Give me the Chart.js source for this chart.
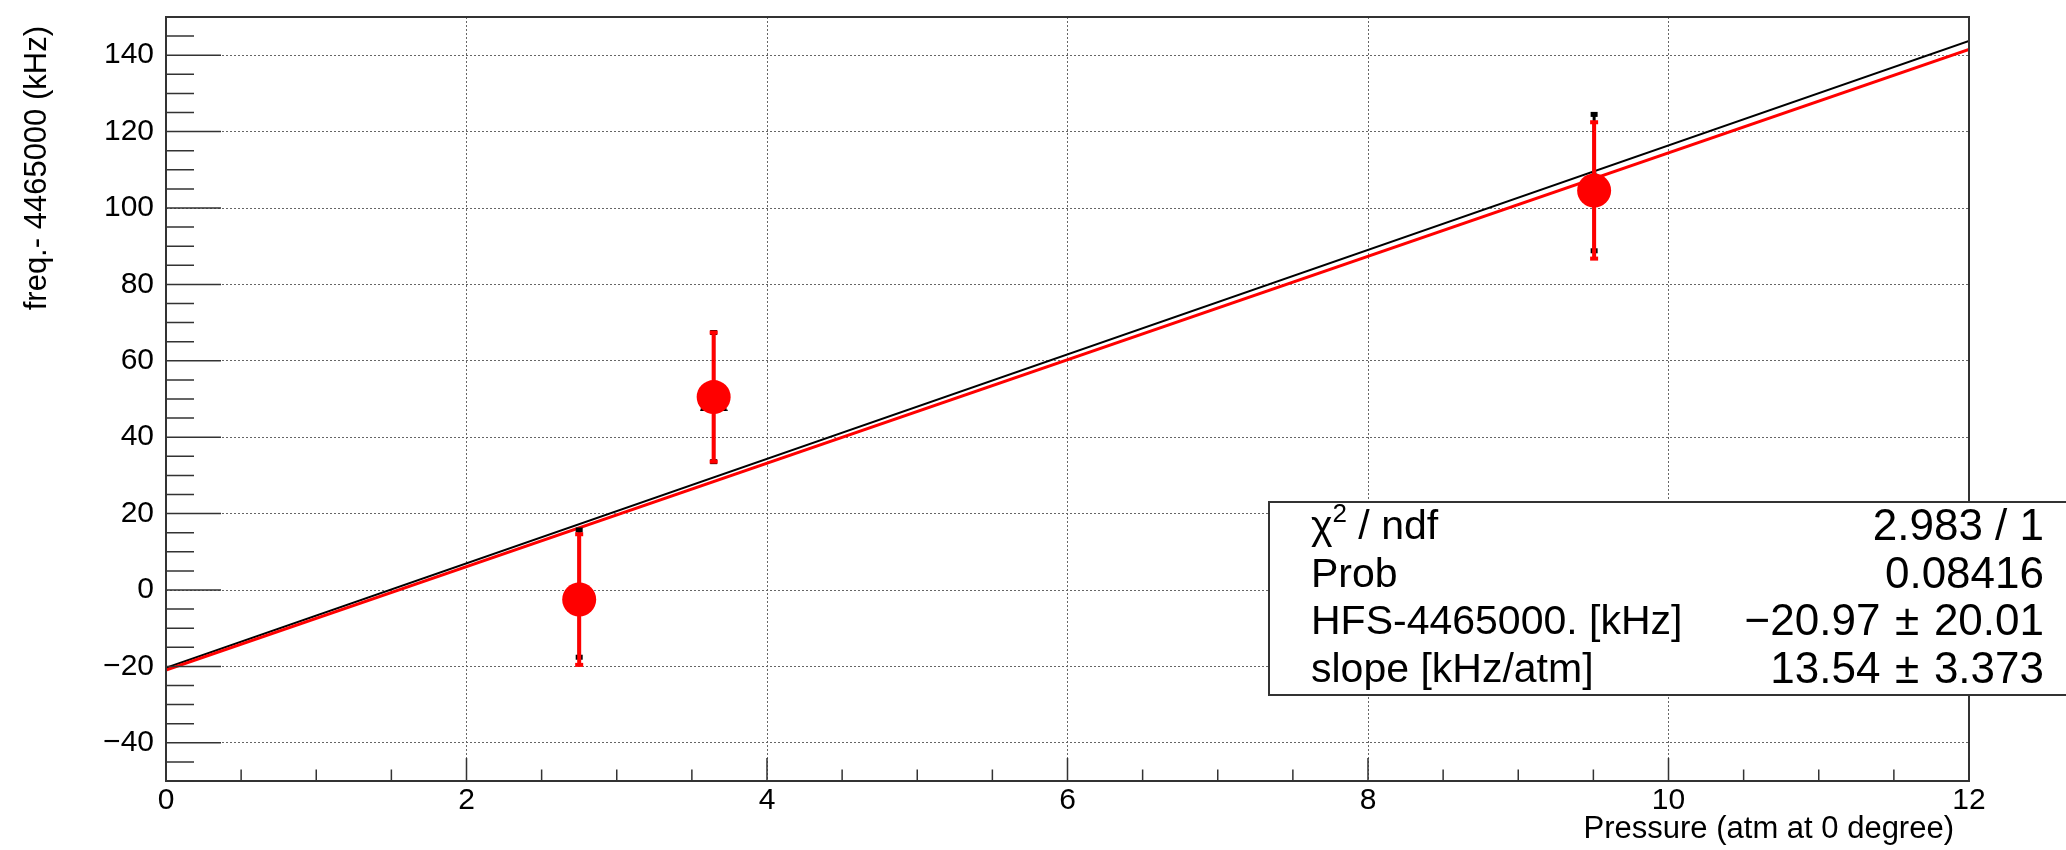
<!DOCTYPE html>
<html>
<head>
<meta charset="utf-8">
<script src="https://cdn.jsdelivr.net/npm/chart.js@4.4.1/dist/chart.umd.min.js"></script>
<style>
html, body { margin: 0; padding: 0; background: #fff; }
#wrap { width: 2066px; height: 850px; }
</style>
</head>
<body>
<div id="wrap"><canvas id="mycanvas" width="2066" height="850"></canvas></div>
<script>
// values
var pressure   = [2.75, 3.645, 9.505];
var freqRed    = [-2.5, 50.5, 104.6];
var errRed     = [17.1, 16.9, 17.85];
var freqBlack  = [-0.95, 50.5, 106.65];
var errBlack   = [16.65, 16.9, 17.85];
var fitX       = [0, 12];
var fitBlack   = [-20.4, 143.7];
var fitRed     = [-20.97, 141.5];
var xTicks     = [0, 2, 4, 6, 8, 10, 12];
var yTicks     = [-40, -20, 0, 20, 40, 60, 80, 100, 120, 140];
var statNames  = ['χ2 / ndf', 'Prob', 'HFS-4465000. [kHz]', 'slope [kHz/atm]'];
var statValues = ['2.983 / 1', '0.08416', '\u221220.97\u2004\u00b1\u200420.01', '13.54\u2004\u00b1\u20043.373'];

var FONT = '"Liberation Sans", Arial, Helvetica, sans-serif';
var AXC = '#333';

function pts(xs, ys) {
  return xs.map(function(x, i) { return {x: x, y: ys[i]}; });
}
function fmt(v) { return String(v).replace('-', '\u2212'); }

// ROOT style filled triangle (apex up, base at +size)
var tri = document.createElement('canvas');
tri.width = 28; tri.height = 28;
(function() {
  var c = tri.getContext('2d');
  c.fillStyle = '#000';
  c.beginPath(); c.moveTo(14, 0); c.lineTo(28, 28); c.lineTo(0, 28); c.closePath(); c.fill();
})();

var rootLook = {
  id: 'rootLook',
  beforeDatasetDraw: function(chart, args) {
    var ds = chart.data.datasets[args.index];
    if (!ds.errors) return;
    var xs = chart.scales.x, ys = chart.scales.y, ctx = chart.ctx;
    ctx.save();
    ctx.strokeStyle = ds.barColor;
    ctx.fillStyle = ds.barColor;
    ctx.lineWidth = ds.barWidth;
    ds.data.forEach(function(p, i) {
      var px = xs.getPixelForValue(p.x);
      var lo = ys.getPixelForValue(p.y - ds.errors[i]);
      var hi = ys.getPixelForValue(p.y + ds.errors[i]);
      ctx.beginPath(); ctx.moveTo(px, lo); ctx.lineTo(px, hi); ctx.stroke();
      ctx.fillRect(px - ds.capW / 2, hi - ds.capH / 2, ds.capW, ds.capH);
      ctx.fillRect(px - ds.capW / 2, lo - ds.capH / 2, ds.capW, ds.capH);
    });
    ctx.restore();
  },
  afterDraw: function(chart) {
    var ctx = chart.ctx, a = chart.chartArea;
    var xs = chart.scales.x, ys = chart.scales.y;
    ctx.save();
    ctx.strokeStyle = AXC;
    ctx.lineWidth = 2;
    // frame
    ctx.strokeRect(a.left, a.top, a.right - a.left, a.bottom - a.top);
    // ticks, inside the frame
    ctx.lineWidth = 1.5;
    ctx.beginPath();
    for (var v = 0; v <= 12.001; v += 0.5) {
      var px = xs.getPixelForValue(v);
      var len = (Math.abs(v / 2 - Math.round(v / 2)) < 0.01) ? 23 : 11.5;
      ctx.moveTo(px, a.bottom); ctx.lineTo(px, a.bottom - len);
    }
    for (var w = -50; w <= 150; w += 5) {
      var py = ys.getPixelForValue(w);
      var ln = (w % 20 === 0) ? 55 : 28;
      ctx.moveTo(a.left, py); ctx.lineTo(a.left + ln, py);
    }
    ctx.stroke();

    // axis titles
    ctx.fillStyle = '#000';
    ctx.font = '31px ' + FONT;
    ctx.textAlign = 'right';
    ctx.textBaseline = 'alphabetic';
    ctx.fillText('Pressure (atm at 0 degree)', 1954, 838);
    ctx.save();
    ctx.translate(46, 26);
    ctx.rotate(-Math.PI / 2);
    ctx.fillText('freq.- 4465000 (kHz)', 0, 0);
    ctx.restore();

    // fit statistics box
    ctx.fillStyle = '#fff';
    ctx.fillRect(1269, 502, 830, 193);
    ctx.lineWidth = 2;
    ctx.strokeStyle = AXC;
    ctx.strokeRect(1269, 502, 830, 193);
    ctx.fillStyle = '#000';
    ctx.textBaseline = 'middle';
    var rows = [528, 576, 623, 671];
    var big = '41px ' + FONT;
    for (var i = 0; i < statNames.length; i++) {
      ctx.font = big;
      ctx.textAlign = 'left';
      var nm = statNames[i];
      if (nm.indexOf('χ2') === 0) {
        ctx.fillText('χ', 1311, rows[i]);
        var cw = ctx.measureText('χ').width;
        ctx.font = '26px ' + FONT;
        ctx.fillText('2', 1311 + cw, rows[i] - 13);
        var sw = ctx.measureText('2').width;
        ctx.font = big;
        ctx.fillText(nm.slice(2), 1311 + cw + sw, rows[i]);
      } else {
        ctx.fillText(nm, 1311, rows[i]);
      }
      ctx.font = '44px ' + FONT;
      ctx.textAlign = 'right';
      ctx.fillText(statValues[i], 2044, rows[i]);
    }
    ctx.restore();
  }
};

var ctx = document.getElementById('mycanvas');

var mycanvas = new Chart(ctx, {
  type: 'scatter',
  data: {
    datasets: [
      {
        label: 'red points',
        data: pts(pressure, freqRed),
        errors: errRed,
        barColor: '#ff0000', barWidth: 4, capW: 8, capH: 4,
        pointStyle: 'circle',
        pointRadius: 17,
        backgroundColor: '#ff0000',
        borderColor: '#ff0000',
        borderWidth: 0
      }, {
        label: 'black points',
        data: pts(pressure, freqBlack),
        errors: errBlack,
        barColor: '#000000', barWidth: 3, capW: 7, capH: 5,
        pointStyle: tri,
        pointRadius: 14,
        backgroundColor: '#000',
        borderColor: '#000',
        borderWidth: 0
      }, {
        label: 'red fit',
        type: 'line',
        data: pts(fitX, fitRed),
        borderColor: '#ff0000',
        borderWidth: 3,
        pointRadius: 0,
        fill: false
      }, {
        label: 'black fit',
        type: 'line',
        data: pts(fitX, fitBlack),
        borderColor: '#000000',
        borderWidth: 2,
        pointRadius: 0,
        fill: false
      }
    ]
  },
  options: {
    responsive: false,
    animation: false,
    events: [],
    devicePixelRatio: 1,
    layout: { padding: { top: 11, right: 97, left: 0, bottom: 0 } },
    plugins: { legend: { display: false }, tooltip: { enabled: false } },
    scales: {
      x: {
        type: 'linear',
        min: 0, max: 12,
        afterBuildTicks: function(s) { s.ticks = xTicks.map(function(v) { return {value: v}; }); },
        afterFit: function(s) { s.height = 69; s.paddingLeft = 0; s.paddingRight = 0; },
        ticks: { font: { size: 30, family: FONT }, color: '#000', padding: 2, maxRotation: 0, autoSkip: false,
                 callback: function(v) { return fmt(v); } },
        grid: { color: '#666', lineWidth: 1, drawTicks: false },
        border: { display: false, dash: [2, 2] }
      },
      y: {
        type: 'linear',
        min: -50, max: 150,
        afterBuildTicks: function(s) { s.ticks = yTicks.map(function(v) { return {value: v}; }); },
        afterFit: function(s) { s.width = 166; s.paddingTop = 0; s.paddingBottom = 0; },
        ticks: { font: { size: 30, family: FONT }, color: '#000', padding: 12, autoSkip: false,
                 callback: function(v) { return fmt(v); } },
        grid: { color: '#666', lineWidth: 1, drawTicks: false },
        border: { display: false, dash: [2, 2] }
      }
    }
  },
  plugins: [rootLook]
});
</script>
</body>
</html>
